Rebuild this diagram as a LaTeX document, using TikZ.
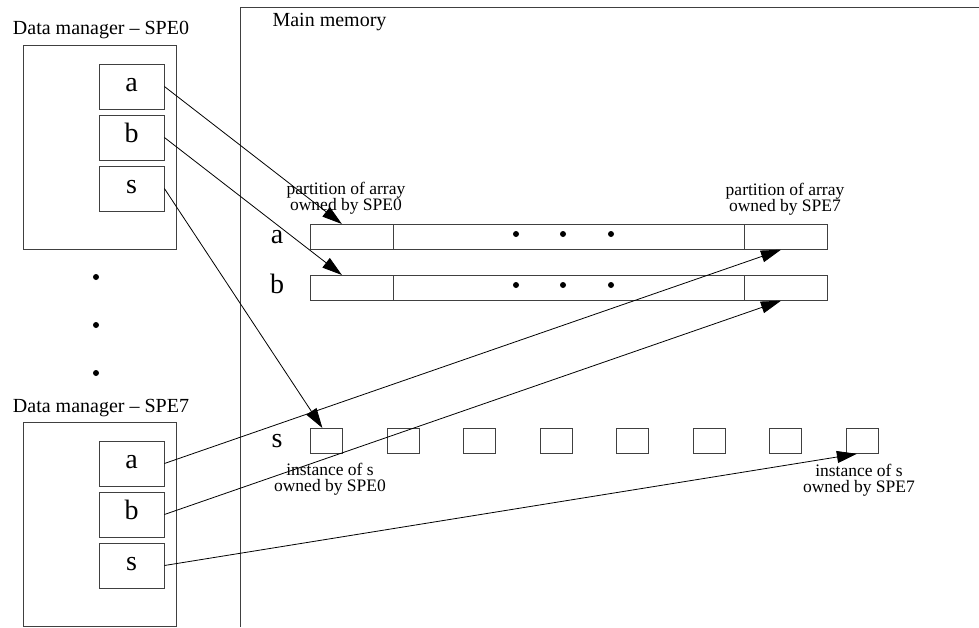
\documentclass[tikz,border=0pt]{standalone}
\usepackage{fontspec}
\setmainfont{Liberation Serif}
\usetikzlibrary{arrows.meta,calc}
\begin{document}
\begin{tikzpicture}[x=1pt,y=-1pt,
  frame/.style={draw=black!75, line width=0.8pt, inner sep=0pt},
  mgr/.style={frame, anchor=north west, minimum width=153pt, minimum height=204pt},
  var/.style={frame, minimum width=65pt, minimum height=45pt, font=\fontsize{28}{28}\selectfont, text height=12pt, text depth=3pt},
  cell/.style={frame, anchor=north west, minimum height=25pt},
  inst/.style={frame, anchor=north west, minimum width=32pt, minimum height=25pt},
  title/.style={anchor=base, inner sep=0pt, font=\fontsize{20}{20}\selectfont},
  rowlab/.style={anchor=base, inner sep=0pt, font=\fontsize{28}{28}\selectfont},
  note/.style={anchor=base, inner sep=0pt, align=center, font=\fontsize{17.5}{16}\selectfont},
  link/.style={draw=black, line width=0.8pt, -{Triangle[length=20pt,width=12pt]}},
  dotmark/.style={fill=black}
]
\useasboundingbox (0,0) rectangle (979,627);

% main memory frame
\draw[black!75, line width=0.8pt] (240,627) -- (240,7) -- (979,7);
\node[title] (mm) at (329.5,26) {Main memory};

% data manager SPE0
\node[title] (t0) at (101,34) {Data manager -- SPE0};
\node[mgr] (m0) at (23,45) {};
\node[var] (a0) at (131.5,86.5) {a};
\node[var] (b0) at (131.5,137.5) {b};
\node[var] (s0) at (131.5,188.5) {s};

% dots between managers
\fill[dotmark] (96,277) circle (3pt);
\fill[dotmark] (96,325) circle (3pt);
\fill[dotmark] (96,373) circle (3pt);

% data manager SPE7
\node[title] (t7) at (101,412) {Data manager -- SPE7};
\node[mgr] (m7) at (23,422) {};
\node[var] (a7) at (131.5,463.5) {a};
\node[var] (b7) at (131.5,514.5) {b};
\node[var] (s7) at (131.5,565.5) {s};

% arrays
\node[rowlab] (la) at (277,243) {a};
\node[rowlab] (lb) at (277,293) {b};
\node[rowlab] (ls) at (277,447) {s};

\node[cell, minimum width=83pt] (pa0) at (310,224) {};
\node[cell, minimum width=351pt] (pam) at (393,224) {};
\node[cell, minimum width=83pt] (pa7) at (744,224) {};
\node[cell, minimum width=83pt] (pb0) at (310,275) {};
\node[cell, minimum width=351pt] (pbm) at (393,275) {};
\node[cell, minimum width=83pt] (pb7) at (744,275) {};

\foreach \x in {516,563,611} {
  \fill[dotmark] (\x,234) circle (3pt);
  \fill[dotmark] (\x,285) circle (3pt);
}

\node[note] (np0) at (346,210) {partition of array\\owned by SPE0};
\node[note] (np7) at (785,211) {partition of array\\owned by SPE7};

% instances of s
\foreach \k in {0,...,7} {
  \node[inst] (i\k) at ({310+76.5*\k},428) {};
}
\node[note] (ni0) at (330,491) {instance of s\\owned by SPE0};
\node[note] (ni7) at (859,492) {instance of s\\owned by SPE7};

% connectors
\draw[link] (a0.east) -- ([xshift=-10pt]pa0.north);
\draw[link] (b0.east) -- ([xshift=-10pt]pb0.north);
\draw[link] (s0.east) -- ([xshift=-4pt]i0.north);
\draw[link] (a7.east) -- ([xshift=-5pt]pa7.south);
\draw[link] (b7.east) -- ([xshift=-5pt]pb7.south);
\draw[link] (s7.east) -- ([xshift=-5pt]i7.south);
\end{tikzpicture}
\end{document}
